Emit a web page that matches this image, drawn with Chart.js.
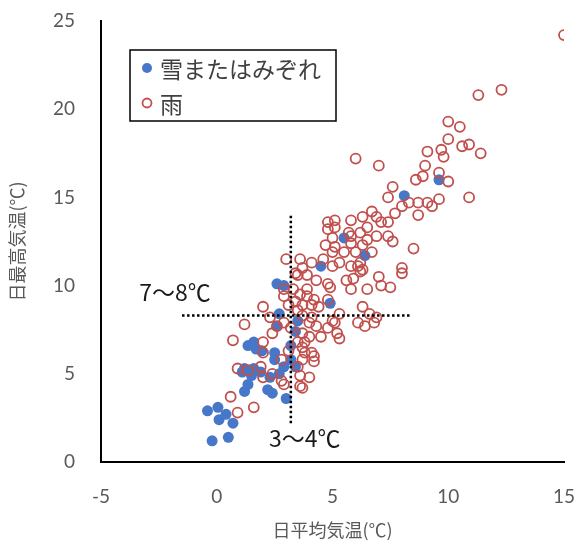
<!DOCTYPE html>
<html><head><meta charset="utf-8">
<script src="https://cdn.jsdelivr.net/npm/chart.js@4/dist/chart.umd.min.js"></script>
<style>html,body{margin:0;padding:0;background:#fff;}#wrap{width:586px;height:549px;}</style>
</head><body><div id="wrap"><canvas id="c" width="586" height="549"></canvas></div>
<script>
const seriesNames = ['雪またはみぞれ', '雨'];
const xAxisTitle = '日平均気温(℃)';
const yAxisTitle = '日最高気温(℃)';
const xTickValues = [-5, 0, 5, 10, 15];
const yTickValues = [0, 5, 10, 15, 20, 25];

const snowX = [-0.2,0.5,-0.4,0.05,0.1,0.7,0.4,1.2,1.35,1.6,1.2,1.35,1.6,2.3,2.2,2.5,2.7,2.9,2.5,2.4,2.6,2.9,2.7,3.5,3.4,3.4,1.95,1.7,1.1,1.5,3.2,3.2,4.5,5.5,6.4,8.1,9.6,4.9,1.9,3.0,2.6];
const snowY = [1.2,1.4,2.9,3.1,2.4,2.2,2.7,4.0,4.4,5.3,5.3,6.6,6.8,4.8,4.1,6.2,5.0,5.4,5.8,3.9,10.1,10.0,8.4,8.0,7.4,5.4,6.3,6.4,5.1,4.9,6.6,5.8,11.1,12.7,11.7,15.1,16.0,9.0,5.1,3.6,7.7];

const rainX = [15.0,12.3,11.3,10.0,10.5,10.0,10.6,10.9,11.4,9.7,9.8,9.1,9.0,8.9,8.6,9.6,10.0,6.0,7.0,7.6,
7.4,8.0,8.3,8.7,9.1,9.6,9.3,8.7,7.7,7.4,10.9,8.5,8.0,8.0,7.0,7.4,7.6,6.3,6.7,6.9,
7.1,6.5,5.8,5.1,6.3,5.8,5.1,5.3,6.1,6.2,6.2,5.1,4.8,4.8,5.0,4.7,5.0,5.7,5.8,5.5,
6.0,6.5,6.9,6.7,6.2,5.8,5.0,4.6,4.1,3.6,3.7,3.9,3.5,5.9,6.3,5.6,4.8,4.3,2.0,2.3,
1.2,0.7,2.0,2.4,2.6,2.9,3.3,3.6,3.9,3.9,4.1,4.4,4.8,4.9,3.7,3.5,3.7,4.1,4.3,4.8,
5.1,5.2,4.5,4.0,3.7,3.5,3.7,4.1,3.7,4.2,3.5,4.0,3.7,2.9,2.8,2.4,1.9,2.0,0.9,1.35,
6.3,6.6,6.1,6.4,6.9,5.0,5.8,6.5,7.1,7.5,4.2,5.3,6.8,5.3,4.0,3.8,3.8,4.2,3.4,2.9,
2.0,3.0,3.4,2.9,0.6,1.6,0.9,2.8,3.6,3.6,3.1,3.2,3.1];
const rainY = [24.2,21.1,20.8,19.3,19.0,18.3,17.9,18.0,17.5,17.7,17.3,17.6,16.8,16.2,16.0,16.4,15.9,17.2,16.8,15.6,
15.0,14.5,14.7,14.7,14.7,14.9,14.5,14.0,14.1,13.6,15.0,12.1,11.0,10.7,10.5,12.8,12.5,13.9,14.2,13.9,
13.6,13.3,13.7,13.7,12.3,12.8,12.2,11.3,11.1,10.8,13.0,13.3,13.6,13.2,12.7,12.3,11.9,13.0,12.4,11.9,
11.9,12.6,12.8,11.9,11.3,11.1,11.1,11.5,11.3,11.5,11.0,10.6,10.6,10.4,10.9,10.3,10.1,10.3,8.8,8.2,
7.8,6.9,6.2,7.3,7.7,9.4,9.8,9.5,9.8,9.4,8.9,8.8,9.2,9.9,8.9,8.6,8.3,8.2,7.7,7.6,
7.9,7.3,7.1,7.1,7.3,6.8,6.5,6.2,5.8,5.7,5.4,4.8,4.2,4.4,5.8,5.0,5.4,4.8,5.3,5.2,
8.8,8.4,7.9,7.7,8.2,8.0,9.8,9.8,10.0,9.9,9.2,8.4,7.9,7.0,7.9,6.8,6.2,6.0,9.1,7.9,
6.8,11.5,10.7,9.8,3.7,3.1,2.8,4.6,4.3,4.9,8.9,7.6,6.3];

// dotted guide lines (x or y value, and extent)
const guideVX = 3.2, guideVY = [2.2, 14.1];
const guideHY = 8.3, guideHX = [-1.5, 8.4];
const noteTexts = ['7～8℃', '3～4℃'];
const noteX = [-1.8, 3.8];
const noteY = [9.6, 1.35];

const BLUE = '#4677c8', RED = '#c0504d';
const zip = (xs, ys) => xs.map((x, i) => ({x, y: ys[i]}));

const notesPlugin = {
  id: 'notes',
  afterDraw(chart) {
    const ctx = chart.ctx, xs = chart.scales.x, ys = chart.scales.y, a = chart.chartArea;
    ctx.save();
    ctx.font = '23px "Noto Sans CJK JP"';
    ctx.fillStyle = '#1a1a1a';
    ctx.textAlign = 'center';
    ctx.textBaseline = 'middle';
    noteTexts.forEach((t, i) => ctx.fillText(t, xs.getPixelForValue(noteX[i]), ys.getPixelForValue(noteY[i])));
    // legend
    const x0 = a.left + 29, y0 = a.top + 29, w = 206, h = 71;
    ctx.fillStyle = '#fff';
    ctx.fillRect(x0, y0, w, h);
    ctx.strokeStyle = '#000';
    ctx.lineWidth = 1.5;
    ctx.strokeRect(x0, y0, w, h);
    ctx.beginPath();
    ctx.arc(x0 + 17, y0 + 18, 5, 0, Math.PI * 2);
    ctx.fillStyle = BLUE; ctx.fill();
    ctx.beginPath();
    ctx.arc(x0 + 17, y0 + 53, 4.5, 0, Math.PI * 2);
    ctx.strokeStyle = RED; ctx.lineWidth = 1.8; ctx.stroke();
    ctx.fillStyle = '#404040';
    ctx.textAlign = 'left';
    ctx.font = '23px "Noto Sans CJK JP"';
    ctx.fillText(seriesNames[0], x0 + 30, y0 + 19);
    ctx.fillText(seriesNames[1], x0 + 30, y0 + 54);
    ctx.restore();
  }
};

new Chart(document.getElementById('c'), {
  type: 'scatter',
  data: {
    datasets: [
      {label: seriesNames[0], data: zip(snowX, snowY), order: 2, pointRadius: 5.5, pointBackgroundColor: BLUE, pointBorderWidth: 0, pointBorderColor: BLUE},
      {label: seriesNames[1], data: zip(rainX, rainY), order: 1, pointRadius: 5, pointBackgroundColor: 'rgba(0,0,0,0)', pointBorderColor: RED, pointBorderWidth: 1.8},
      {type: 'line', data: [{x: guideVX, y: guideVY[0]}, {x: guideVX, y: guideVY[1]}], order: 0, showLine: true, borderColor: '#000', borderWidth: 2.5, borderDash: [2.5, 2.5], pointRadius: 0, fill: false},
      {type: 'line', data: [{x: guideHX[0], y: guideHY}, {x: guideHX[1], y: guideHY}], order: 0, showLine: true, borderColor: '#000', borderWidth: 2.5, borderDash: [2.5, 2.5], pointRadius: 0, fill: false}
    ]
  },
  options: {
    responsive: false, animation: false, devicePixelRatio: 1,
    layout: {padding: {top: 21, right: 22, bottom: 0, left: 0}},
    plugins: {legend: {display: false}, tooltip: {enabled: false}},
    scales: {
      x: {
        type: 'linear', min: -5, max: 15,
        afterBuildTicks: s => { s.ticks = xTickValues.map(v => ({value: v})); },
        ticks: {font: {family: 'Lato', size: 19}, color: '#595959', padding: 23},
        grid: {display: false, drawTicks: false},
        border: {color: '#000', width: 2},
        title: {display: true, text: xAxisTitle, font: {family: 'Noto Sans CJK JP', size: 18}, color: '#595959', padding: {top: 0, bottom: 8}},
        afterFit: s => { s.height = 87; s.paddingLeft = 0; s.paddingRight = 0; }
      },
      y: {
        type: 'linear', min: 0, max: 25,
        afterBuildTicks: s => { s.ticks = yTickValues.map(v => ({value: v})); },
        ticks: {font: {family: 'Lato', size: 19}, color: '#595959', padding: 26},
        grid: {display: false, drawTicks: false},
        border: {color: '#000', width: 2},
        title: {display: true, text: yAxisTitle, font: {family: 'Noto Sans CJK JP', size: 18}, color: '#595959', padding: {top: 6, bottom: 0}},
        afterFit: s => { s.width = 101; s.paddingTop = 0; s.paddingBottom = 0; }
      }
    }
  },
  plugins: [notesPlugin]
});
</script></body></html>
